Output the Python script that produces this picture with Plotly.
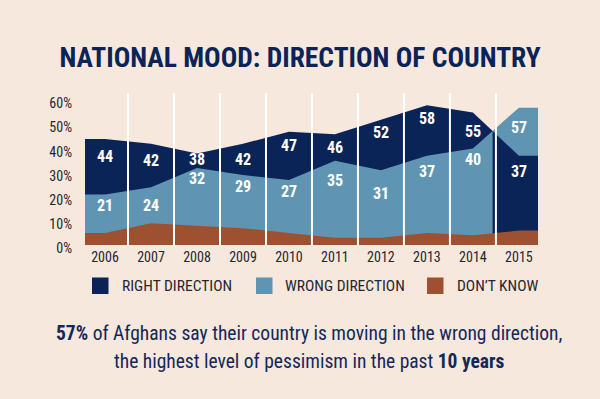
import plotly.graph_objects as go

# ---------------- data ----------------
years = [2006, 2007, 2008, 2009, 2010, 2011, 2012, 2013, 2014, 2015]
right_direction = [44, 42, 38, 42, 47, 46, 52, 58, 55, 37]
wrong_direction = [21, 24, 32, 29, 27, 35, 31, 37, 40, 57]
dont_know = [5, 9, 8, 7, 5, 3, 3, 5, 4, 6]
y_ticks = [0, 10, 20, 30, 40, 50, 60]
y_tick_labels = ["0%", "10%", "20%", "30%", "40%", "50%", "60%"]
series_names = ["RIGHT DIRECTION", "WRONG DIRECTION", "DON\u2019T KNOW"]
title_text = "NATIONAL MOOD: DIRECTION OF COUNTRY"
sub_line1 = "<b>57%</b> of Afghans say their country is moving in the wrong direction,"
sub_line2 = "the highest level of pessimism in the past <b>10 years</b>"

# ---------------- style / placement ----------------
BG = "#f6e8dc"
NAVY = "#0a2457"
LIGHT = "#5f95b3"
BROWN = "#9e5130"
TEXT = "#26262f"
SUB = "#13275a"
FONT = "Roboto Condensed, Liberation Sans, sans-serif"

# how far (px) each value label sits below its line
right_label_drop = [18, 17, 6, 16, 14, 13, 13, 13, 19, 16]
wrong_label_drop = [11, 18, 11, 11, 12, 20, 23, 16, 11, 20]

W, H = 600, 399
PL, PR, PT, PB = 85, 538, 93, 245          # plot area in pixels
PAD_L, PAD_R = 0.435, 0.415                  # area extends past first/last year
x_lo, x_hi = years[0] - PAD_L, years[-1] + PAD_R
PX_PER_PCT = 2.41
y_top = (PB - PT) / PX_PER_PCT


def extend(vals):
    return [x_lo] + years + [x_hi], [vals[0]] + list(vals) + [vals[-1]]


xs, r_ext = extend(right_direction)
_, w_ext = extend(wrong_direction)
_, d_ext = extend(dont_know)

# find where right/wrong cross; split so the smaller one is always in front
ci = None
for i in range(len(xs) - 1):
    a = r_ext[i] - w_ext[i]
    b = r_ext[i + 1] - w_ext[i + 1]
    if a * b < 0:
        ci = i
        break
t = (r_ext[ci] - w_ext[ci]) / ((r_ext[ci] - w_ext[ci]) - (r_ext[ci + 1] - w_ext[ci + 1]))
xc = xs[ci] + t * (xs[ci + 1] - xs[ci])
yc = r_ext[ci] + t * (r_ext[ci + 1] - r_ext[ci])

x_before = xs[:ci + 1] + [xc]
x_after = [xc] + xs[ci + 1:]
r_before = r_ext[:ci + 1] + [yc]
w_before = w_ext[:ci + 1] + [yc]
r_after = [yc] + r_ext[ci + 1:]
w_after = [yc] + w_ext[ci + 1:]


def area(x, y, color):
    return go.Scatter(x=x, y=y, mode="lines", fill="tozeroy", fillcolor=color,
                      line=dict(width=0, color=color), hoverinfo="skip",
                      showlegend=False)


fig = go.Figure()
fig.add_trace(area(x_before, r_before, NAVY))
fig.add_trace(area(x_after, w_after, LIGHT))
fig.add_trace(area(x_before, w_before, LIGHT))
fig.add_trace(area(x_after, r_after, NAVY))
fig.add_trace(area(xs, d_ext, BROWN))

# separators between years
for yv in years[:-1]:
    fig.add_shape(type="line", xref="x", yref="paper", x0=yv + 0.5, x1=yv + 0.5,
                  y0=0, y1=1, line=dict(color="white", width=2), layer="above")

# value labels
for yv, rv, wv, rd, wd in zip(years, right_direction, wrong_direction,
                              right_label_drop, wrong_label_drop):
    for v, d in ((rv, rd), (wv, wd)):
        fig.add_annotation(x=yv, y=v, text=str(v), showarrow=False,
                           yanchor="middle", yshift=-d,
                           font=dict(family=FONT, size=16, color="white",
                                     weight="bold"))


def px2paper(px, py):
    return (px - PL) / (PR - PL), (PB - py) / (PB - PT)


# legend
leg = [(92, 121, NAVY), (256, 284, LIGHT), (427, 456, BROWN)]
for (sx, tx, col), name in zip(leg, series_names):
    x0, y0 = px2paper(sx, 294)
    x1, y1 = px2paper(sx + 16.5, 277.5)
    fig.add_shape(type="rect", xref="paper", yref="paper", x0=x0, x1=x1,
                  y0=y0, y1=y1, fillcolor=col, line=dict(width=0))
    ax, ay = px2paper(tx - 1, 286)
    fig.add_annotation(xref="paper", yref="paper", x=ax, y=ay, text=name,
                       showarrow=False, xanchor="left", yanchor="middle",
                       font=dict(family=FONT, size=15.5, color=TEXT))

# subtitle
for line, cy in ((sub_line1, 333), (sub_line2, 361)):
    ax, ay = px2paper(309, cy)
    fig.add_annotation(xref="paper", yref="paper", x=ax, y=ay, text=line,
                       showarrow=False, xanchor="center", yanchor="middle",
                       font=dict(family=FONT, size=19.5, color=SUB))

fig.update_layout(
    width=W, height=H,
    margin=dict(l=PL, r=W - PR, t=PT, b=H - PB, pad=0),
    paper_bgcolor=BG, plot_bgcolor=BG,
    title=dict(text="<b>" + title_text + "</b>", x=0.5, xanchor="center",
               y=1 - 57 / H, yanchor="middle", yref="container",
               font=dict(family=FONT, size=27.5, color=NAVY)),
    xaxis=dict(range=[x_lo, x_hi], tickvals=years, ticktext=[str(y) for y in years],
               showgrid=False, zeroline=False, showline=False, ticks="",
               ticklabelstandoff=2,
               tickfont=dict(family=FONT, size=14, color=TEXT), fixedrange=True),
    yaxis=dict(range=[0, y_top], tickvals=y_ticks, ticktext=y_tick_labels,
               showgrid=False, zeroline=False, showline=False, ticks="",
               ticklabelstandoff=12, ticklabelshift=3,
               tickfont=dict(family=FONT, size=14, color=TEXT), fixedrange=True),
    showlegend=False,
)

fig.write_html("out.html", config={"displayModeBar": False},
               post_script="document.body.style.margin='0';")
